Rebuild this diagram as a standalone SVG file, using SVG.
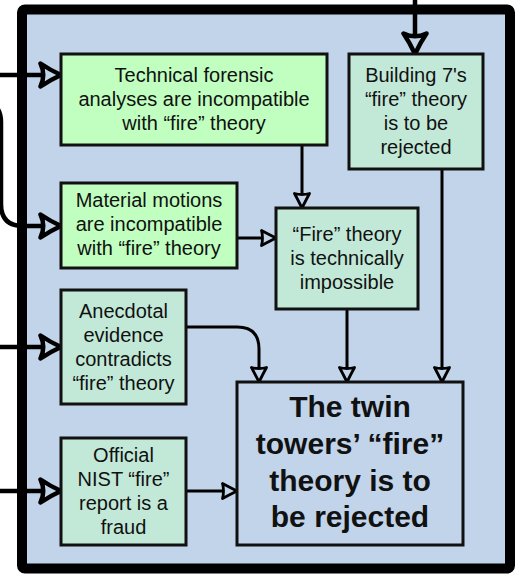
<svg xmlns="http://www.w3.org/2000/svg" width="518" height="575" viewBox="0 0 518 575">
<style>
.frame{fill:#c1d4ea;stroke:#000;stroke-width:10}
.g{fill:#c0ffc0;stroke:#111;stroke-width:3}
.m{fill:#c2e9d8;stroke:#111;stroke-width:3}
.main{fill:#c1d4ea;stroke:#111;stroke-width:3}
.t{font-family:"Liberation Sans",Arial,sans-serif;font-size:20px;fill:#111;text-anchor:middle}
.b{font-family:"Liberation Sans",Arial,sans-serif;font-size:30px;font-weight:bold;fill:#111;text-anchor:middle}
.thick{fill:none;stroke:#000;stroke-width:4.5;marker-end:url(#ah)}
.thin{fill:none;stroke:#000;stroke-width:3;marker-end:url(#as)}
</style>
<defs>
<marker id="ah" viewBox="0 0 26 28" refX="23" refY="14" markerWidth="26" markerHeight="28" markerUnits="userSpaceOnUse" orient="auto">
<path d="M2.5,2.5 Q12,9 23,14 Q12,19 2.5,25.5 Q8,14 2.5,2.5 Z" fill="#c1d4ea" stroke="#000" stroke-width="4.5" stroke-linejoin="round"/>
</marker>
<marker id="as" viewBox="0 0 18 18" refX="16" refY="9" markerWidth="18" markerHeight="18" markerUnits="userSpaceOnUse" orient="auto">
<path d="M1.5,1.5 Q8,5 16,9 Q8,13 1.5,16.5 Q3.5,9 1.5,1.5 Z" fill="#c1d4ea" stroke="#000" stroke-width="2.8" stroke-linejoin="round"/>
</marker>
</defs>
<rect class="frame" x="22" y="9.5" width="488" height="559" rx="3"/>
<g id="connectors">
<path class="thick" d="M415,-5 L415,54"/>
<path class="thick" d="M-5,75 L61,75"/>
<path class="thick" d="M-25,100 Q1,100 1,122 L1,204 Q1,226 23,226 L61,226"/>
<path class="thick" d="M-5,347 L61,347"/>
<path class="thick" d="M-5,491 L61,491"/>
<path class="thin" d="M302,145 L302,208"/>
<path class="thin" d="M237,238 L276,238"/>
<path class="thin" d="M442,169 L442,382"/>
<path class="thin" d="M347,309 L347,382"/>
<path class="thin" d="M186,327 L237,327 Q259,327 259,349 L259,382"/>
<path class="thin" d="M186,491 L237,491"/>
</g>
<g id="n-technical">
<rect class="g" x="61" y="54" width="266" height="91"/>
<text class="t" x="194" y="82">Technical forensic</text>
<text class="t" x="194" y="106">analyses are incompatible</text>
<text class="t" x="194" y="130">with “fire” theory</text>
</g>
<g id="n-material">
<rect class="g" x="61" y="183" width="176" height="85"/>
<text class="t" x="149" y="207">Material motions</text>
<text class="t" x="149" y="231">are incompatible</text>
<text class="t" x="149" y="255">with “fire” theory</text>
</g>
<g id="n-building7">
<rect class="m" x="349" y="54" width="134" height="115"/>
<text class="t" x="416" y="82">Building 7's</text>
<text class="t" x="416" y="106">“fire” theory</text>
<text class="t" x="416" y="130">is to be</text>
<text class="t" x="416" y="154">rejected</text>
</g>
<g id="n-impossible">
<rect class="m" x="276" y="208" width="142" height="101"/>
<text class="t" x="347" y="241">“Fire” theory</text>
<text class="t" x="347" y="265">is technically</text>
<text class="t" x="347" y="289">impossible</text>
</g>
<g id="n-anecdotal">
<rect class="m" x="61" y="290" width="125" height="114"/>
<text class="t" x="123.5" y="318">Anecdotal</text>
<text class="t" x="123.5" y="342">evidence</text>
<text class="t" x="123.5" y="366">contradicts</text>
<text class="t" x="123.5" y="390">“fire” theory</text>
</g>
<g id="n-nist">
<rect class="m" x="61" y="438" width="125" height="107"/>
<text class="t" x="123.5" y="462">Official</text>
<text class="t" x="123.5" y="486">NIST “fire”</text>
<text class="t" x="123.5" y="510">report is a</text>
<text class="t" x="123.5" y="534">fraud</text>
</g>
<g id="n-main">
<rect class="main" x="237" y="382" width="226" height="163"/>
<text class="b" x="350" y="417">The twin</text>
<text class="b" x="350" y="454">towers’ “fire”</text>
<text class="b" x="350" y="491">theory is to</text>
<text class="b" x="350" y="527">be rejected</text>
</g>
</svg>
